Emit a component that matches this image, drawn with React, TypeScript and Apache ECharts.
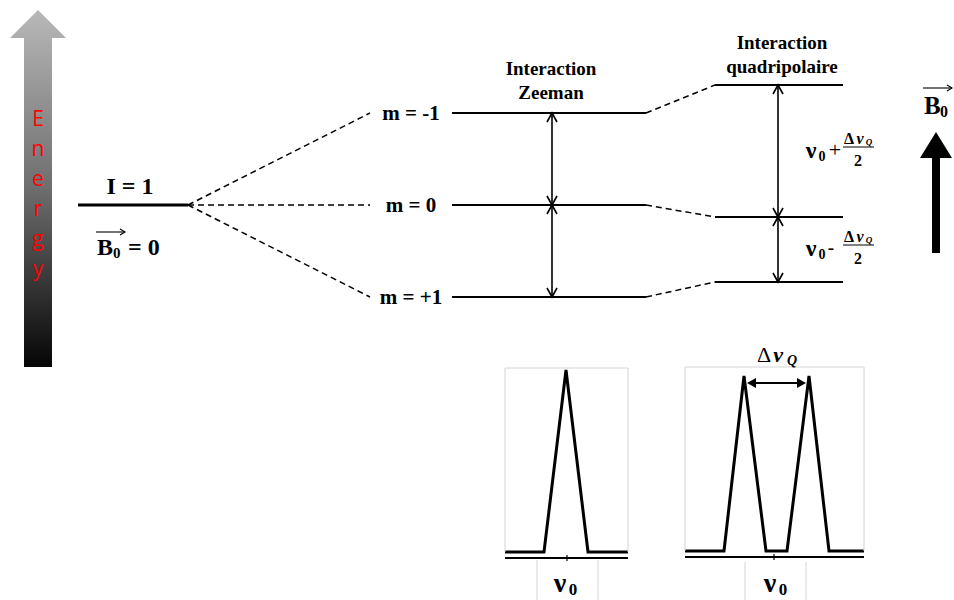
import React, { useEffect, useRef } from "react";
import * as echarts from "echarts";

// ---- data ----
const energyLetters = ["E", "n", "e", "r", "g", "y"];
const spinLevelY = 205; // I = 1, B0 = 0
const mLabels = ["m = -1", "m = 0", "m = +1"];
const zeemanY = [113, 205, 297];
const quadY = [85, 217, 282];
const spectrumSingle: number[][] = [
  [505, 552], [544, 552], [566, 370], [588, 552], [628, 552],
];
const spectrumDouble: number[][] = [
  [685, 551], [724, 551], [744, 376], [766, 551], [787, 551], [809, 376], [829, 551], [864, 551],
];

// ---- layout ----
const W = 954;
const H = 600;
const SERIF = '"Liberation Serif", "Times New Roman", serif';
const spinX = [78, 188];
const splitEndX = 370;
const zeemanX = [452, 646];
const quadX = [715, 843];
const zeemanArrowX = 552;
const quadArrowX = 778;

const seg = (pts: number[][], width: number, type: any = "solid", color = "#000") => ({
  type: "line",
  data: pts,
  symbol: "none",
  silent: true,
  animation: false,
  z: 3,
  lineStyle: { width, color, type, cap: "butt", join: "miter" },
});

const dblArrow = (x: number, y1: number, y2: number) => [
  seg([[x, y1], [x, y2]], 1.6),
  seg([[x - 5, y1 + 9], [x, y1], [x + 5, y1 + 9]], 1.6),
  seg([[x - 5, y2 - 9], [x, y2], [x + 5, y2 - 9]], 1.6),
];

const T = (x: number, y: number, text: string, font: string, extra: any = {}) => ({
  type: "text",
  x,
  y,
  silent: true,
  z: 10,
  style: {
    text,
    font,
    fill: "#000",
    align: "center",
    verticalAlign: "middle",
    textAlign: "center",
    textVerticalAlign: "middle",
    ...extra,
  },
});

const L = (x1: number, y1: number, x2: number, y2: number, w = 1, color = "#000") => ({
  type: "line",
  silent: true,
  z: 10,
  shape: { x1, y1, x2, y2 },
  style: { stroke: color, lineWidth: w },
});

const overArrow = (x1: number, x2: number, y: number) => [
  L(x1, y, x2, y, 1.1),
  { type: "polyline", silent: true, z: 10, shape: { points: [[x2 - 5, y - 3], [x2, y], [x2 - 5, y + 3]] }, style: { stroke: "#000", lineWidth: 1.1, fill: null } },
];

// nu0 +/- dnuQ/2 label
const freqLabel = (yc: number, sign: string) => [
  T(811, yc, "ν", `bold 24px ${SERIF}`),
  T(822, yc + 6, "0", `bold 14px ${SERIF}`),
  sign === "+" ? T(835, yc - 1, "+", `22px ${SERIF}`) : T(831, yc - 1, "-", `bold 19px ${SERIF}`),
  T(849, yc - 12, "Δ", `bold 16px ${SERIF}`),
  T(860, yc - 12, "ν", `bold italic 16px ${SERIF}`),
  T(869, yc - 8, "Q", `bold italic 9px ${SERIF}`),
  L(843, yc - 3, 874, yc - 3, 1),
  T(858, yc + 10, "2", `bold 16px ${SERIF}`),
];

export default function App() {
  const ref = useRef<HTMLDivElement>(null);
  useEffect(() => {
    document.body.style.margin = "0";
    const chart = echarts.init(ref.current!, null, { renderer: "svg" });

    const series: any[] = [];
    series.push(seg([[spinX[0], spinLevelY], [spinX[1], spinLevelY]], 3));
    zeemanY.forEach((zy, i) => {
      series.push(seg([[spinX[1], spinLevelY], [splitEndX, zy]], 1.5, [6, 4]));
      series.push(seg([[zeemanX[0], zy], [zeemanX[1], zy]], 2));
      series.push(seg([[zeemanX[1], zy], [quadX[0], quadY[i]]], 1.5, [6, 4]));
      series.push(seg([[quadX[0], quadY[i]], [quadX[1], quadY[i]]], 2));
    });
    series.push(...dblArrow(zeemanArrowX, zeemanY[0], zeemanY[1]));
    series.push(...dblArrow(zeemanArrowX, zeemanY[1], zeemanY[2]));
    series.push(...dblArrow(quadArrowX, quadY[0], quadY[1]));
    series.push(...dblArrow(quadArrowX, quadY[1], quadY[2]));
    series.push(seg(spectrumSingle, 3));
    series.push(seg(spectrumDouble, 3));
    series.push(seg([[spectrumSingle[0][0], 558], [spectrumSingle[spectrumSingle.length - 1][0], 558]], 2.2));
    series.push(seg([[spectrumDouble[0][0], 557], [spectrumDouble[spectrumDouble.length - 1][0], 557]], 2.2));

    const gray = "#d4d4d4";
    const graphic: any[] = [
      {
        type: "polygon",
        silent: true,
        z: 1,
        shape: { points: [[24, 367], [24, 38], [10, 38], [38, 10], [66, 38], [52, 38], [52, 367]] },
        style: {
          fill: new echarts.graphic.LinearGradient(0, 0, 0, 1, [
            { offset: 0, color: "#b8b8b8" },
            { offset: 0.5, color: "#6e6e6e" },
            { offset: 1, color: "#050505" },
          ]),
        },
      },
      ...energyLetters.map((c, i) =>
        T(38, 128 + i * 30, c, `21px "Open Sans", "Lato", sans-serif`, { fill: "#ff0000", verticalAlign: "bottom", textVerticalAlign: "bottom" })
      ),
      T(130, 186, "I = 1", `bold 24px ${SERIF}`),
      T(97, 247, "B", `bold 24px ${SERIF}`, { align: "left", textAlign: "left" }),
      T(113, 253, "0", `bold 15px ${SERIF}`, { align: "left", textAlign: "left" }),
      T(128, 247, "= 0", `bold 24px ${SERIF}`, { align: "left", textAlign: "left" }),
      ...overArrow(96, 125, 232),
      ...mLabels.map((t, i) => T(411, zeemanY[i], t, `bold 21px ${SERIF}`)),
      T(551, 68, "Interaction", `bold 19px ${SERIF}`),
      T(551, 92, "Zeeman", `bold 19px ${SERIF}`),
      T(782, 42, "Interaction", `bold 19px ${SERIF}`),
      T(782, 66, "quadripolaire", `bold 19px ${SERIF}`),
      ...freqLabel(150, "+"),
      ...freqLabel(248, "-"),
      { type: "rect", silent: true, z: 5, shape: { x: 932, y: 150, width: 8, height: 103 }, style: { fill: "#000" } },
      { type: "polygon", silent: true, z: 5, shape: { points: [[936, 132], [952, 158], [920, 158]] }, style: { fill: "#000" } },
      T(924, 105, "B", `bold 25px ${SERIF}`, { align: "left", textAlign: "left" }),
      T(940, 111, "0", `bold 16px ${SERIF}`, { align: "left", textAlign: "left" }),
      ...overArrow(923, 952, 88),
      L(505, 368, 505, 552, 1, gray),
      L(505, 368, 628, 368, 1, gray),
      L(628, 368, 628, 552, 1, gray),
      L(537, 560, 537, 600, 1, gray),
      L(598, 560, 598, 600, 1, gray),
      L(685, 367, 685, 551, 1, gray),
      L(685, 367, 864, 367, 1, gray),
      L(864, 367, 864, 551, 1, gray),
      L(745, 562, 745, 600, 1, gray),
      L(806, 562, 806, 600, 1, gray),
      L(567, 555, 567, 561, 1.2),
      L(774, 554, 774, 560, 1.2),
      T(560, 582, "ν", `bold 28px ${SERIF}`),
      T(573, 589, "0", `bold 17px ${SERIF}`),
      T(770, 582, "ν", `bold 28px ${SERIF}`),
      T(783, 589, "0", `bold 17px ${SERIF}`),
      T(764, 354, "Δ", `22px ${SERIF}`),
      T(778, 354, "ν", `bold italic 22px ${SERIF}`),
      T(792, 360, "Q", `bold italic 14px ${SERIF}`),
      L(754, 383, 799, 383, 2.2),
      { type: "polygon", silent: true, z: 10, shape: { points: [[747, 383], [756, 378], [756, 388]] }, style: { fill: "#000" } },
      { type: "polygon", silent: true, z: 10, shape: { points: [[806, 383], [797, 378], [797, 388]] }, style: { fill: "#000" } },
    ];

    chart.setOption({
      animation: false,
      grid: { left: 0, right: 0, top: 0, bottom: 0, containLabel: false },
      xAxis: { type: "value", min: 0, max: W, show: false },
      yAxis: { type: "value", min: 0, max: H, inverse: true, show: false },
      series,
      graphic,
    });
    return () => chart.dispose();
  }, []);
  return (
    <div
      ref={ref}
      style={{ position: "absolute", left: 0, top: 0, width: W, height: H, background: "#fff" }}
    />
  );
}
